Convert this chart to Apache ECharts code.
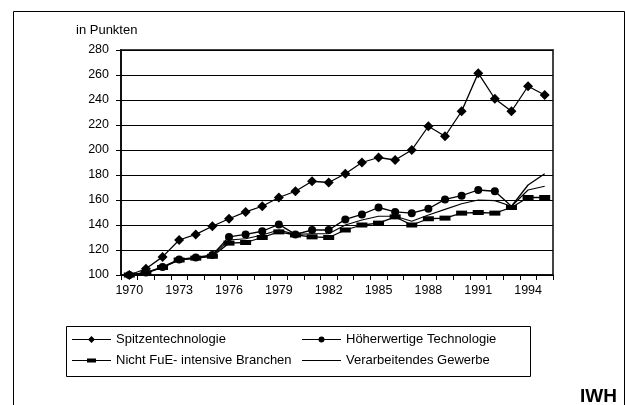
<!DOCTYPE html>
<html>
<head>
<meta charset="utf-8">
<script src="https://cdn.jsdelivr.net/npm/echarts@6/dist/echarts.min.js"></script>
<style>
html,body{margin:0;padding:0;background:#fff;}
#c{width:625px;height:405px;}
</style>
</head>
<body>
<div id="c"></div>
<script>
const years = ['1970','1971','1972','1973','1974','1975','1976','1977','1978','1979','1980','1981','1982','1983','1984','1985','1986','1987','1988','1989','1990','1991','1992','1993','1994','1995'];
const spitzen = [100,105,114.5,128,132.5,139,145,150.5,155,162,167,175,174,181,190,194,192,200,219,211,231,261.5,241,231,251,244];
const hoeher = [100,102,106.5,112.5,114,116,130.5,132.5,135,140.5,132.5,136,136,144.5,148.5,154,150.5,149.5,153,160.5,163.5,168,167,155,172,181];
const hoeherNoMarkerFrom = 23; // last points drawn without markers in the source
const nichtFuE = [100,101.5,106,112,113.5,115,125.5,126,130,134.5,132,130.5,130,136,140,141.5,146.5,140,145,145.5,149.5,150,149.5,154,162,162];
const verarb = [100,102,106,112,113.5,115.5,128,129,132,136,132.5,133,133,140,144,147,147,143,148,152.5,157,160,159.5,155,168,171];
const names = ['Spitzentechnologie','Höherwertige Technologie','Nicht FuE- intensive Branchen','Verarbeitendes Gewerbe'];
const yMin = 100, yMax = 280, yStep = 20;

const font = 'Liberation Sans, Arial, sans-serif';
const chart = echarts.init(document.getElementById('c'), null, {renderer:'canvas'});
const lineStyle = {color:'#000', width:1.3};

// legend icons (line + marker), in a 39x10 box
const pin = 'M0,0L0,0M39,10L39,10';
const baseLine = 'M0,4.4L39,4.4L39,5.6L0,5.6Z';
const icons = [
  'path://' + pin + baseLine + 'M19.5,1.5L23,5L19.5,8.5L16,5Z',
  'path://' + pin + baseLine + 'M22.5,5A3,3 0 1 1 16.5,5A3,3 0 1 1 22.5,5Z',
  'path://' + pin + baseLine + 'M15,3L24,3L24,7L15,7Z',
  'path://' + pin + 'M0,4.5L39,4.5L39,5.5L0,5.5Z'
];
const legendCommon = {
  orient:'horizontal', itemGap:0, itemWidth:39, itemHeight:10,
  textStyle:{fontFamily:font, fontSize:13, color:'#000'},
  selectedMode:false, padding:0
};
const legendPos = [[72,333],[302,333],[72,354],[302,354]];
chart.setOption({
  animation:false,
  backgroundColor:'#fff',
  grid:{left:121, right:72, top:50, bottom:130, show:true, borderColor:'#444', borderWidth:2},
  xAxis:{
    type:'category', data:years, boundaryGap:true,
    axisLine:{lineStyle:{color:'#000', width:1.5}},
    axisTick:{show:true, interval:0, length:5, lineStyle:{color:'#000', width:1}},
    axisLabel:{interval:2, color:'#000', fontFamily:font, fontSize:12.5, margin:9},
    splitLine:{show:false}
  },
  yAxis:{
    type:'value', min:yMin, max:yMax, interval:yStep,
    axisLine:{show:true, lineStyle:{color:'#000', width:1.5}},
    axisTick:{show:true, length:5, lineStyle:{color:'#000'}},
    axisLabel:{color:'#000', fontFamily:font, fontSize:12.5, margin:12},
    splitLine:{show:true, lineStyle:{color:'#000', width:1.2}}
  },
  legend: names.map((n,i)=> Object.assign({
    data:[{name:n, icon:icons[i], itemStyle:{color:'#000', borderWidth:0}}],
    left:legendPos[i][0], top:legendPos[i][1]
  }, legendCommon)),
  series:[
    {name:names[0], type:'line', data:spitzen, symbol:'diamond', symbolSize:10,
     itemStyle:{color:'#000'}, lineStyle:lineStyle, z:5},
    {name:names[1], type:'line', symbol:'circle', symbolSize:8,
     data:hoeher.map((v,i)=> i>=hoeherNoMarkerFrom ? {value:v, symbol:'none'} : v),
     itemStyle:{color:'#000'}, lineStyle:lineStyle, z:4},
    {name:names[2], type:'line', data:nichtFuE, symbol:'rect', symbolSize:[11,5],
     itemStyle:{color:'#000'}, lineStyle:lineStyle, z:3},
    {name:names[3], type:'line', data:verarb, symbol:'none', showSymbol:false,
     itemStyle:{color:'#000'}, lineStyle:{color:'#000', width:1.1}, z:2}
  ],
  graphic:[
    {type:'rect', left:11, top:9, shape:{x:0,y:0,width:611,height:420}, style:{fill:'none', stroke:'#000', lineWidth:1}, silent:true, z:-10},
    {type:'rect', shape:{x:66.5,y:326.5,width:464,height:50}, style:{fill:'none', stroke:'#000', lineWidth:1}, silent:true},
    {type:'text', left:76, top:24, style:{text:'in Punkten', font:'13px Liberation Sans, Arial, sans-serif', fill:'#000'}},
    {type:'text', left:580, top:387, style:{text:'IWH', font:'bold 19px Liberation Sans, Arial, sans-serif', fill:'#000'}}
  ]
});
</script>
</body>
</html>
